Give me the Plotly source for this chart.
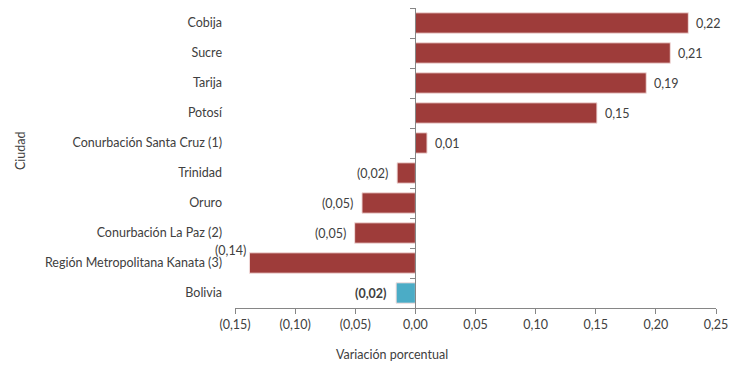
import plotly.graph_objects as go

categories = ["Cobija", "Sucre", "Tarija", "Potosí", "Conurbación Santa Cruz (1)",
              "Trinidad", "Oruro", "Conurbación La Paz (2)",
              "Región Metropolitana Kanata (3)", "Bolivia"]
values = [0.227, 0.212, 0.192, 0.151, 0.0097, -0.0152, -0.0444, -0.0505, -0.138, -0.016]
value_labels = ["0,22", "0,21", "0,19", "0,15", "0,01", "(0,02)", "(0,05)", "(0,05)", "(0,14)", "(0,02)"]
x_tickvals = [-0.15, -0.10, -0.05, 0.0, 0.05, 0.10, 0.15, 0.20, 0.25]
x_ticktext = ["(0,15)", "(0,10)", "(0,05)", "0,00", "0,05", "0,10", "0,15", "0,20", "0,25"]

RED = "#9E3C3A"
BLUE = "#4BACC6"
FONT = "Lato"
FS = 12.5
TXT = "#404040"

colors = [BLUE if c == "Bolivia" else RED for c in categories]

fig = go.Figure()
fig.add_trace(go.Bar(
    x=values, y=categories, orientation="h",
    marker=dict(color=colors, line=dict(color="#F2DCDB", width=1)),
    width=0.68, hoverinfo="skip",
))
# invisible trace carrying the secondary y axis (drawn at x = 0)
fig.add_trace(go.Scatter(x=values, y=categories, yaxis="y2", mode="markers",
                         marker=dict(opacity=0), hoverinfo="skip", showlegend=False))

# value labels
for c, v, t in zip(categories, values, value_labels):
    txt = "<b>" + t + "</b>" if c == "Bolivia" else t
    if c == "Región Metropolitana Kanata (3)":
        fig.add_annotation(x=v, y=c, text=txt, showarrow=False,
                           xanchor="right", yanchor="middle", xshift=-1, yshift=13,
                           font=dict(family=FONT, size=FS, color=TXT))
    elif v >= 0:
        fig.add_annotation(x=v, y=c, text=txt, showarrow=False,
                           xanchor="left", yanchor="middle", xshift=6,
                           font=dict(family=FONT, size=FS, color=TXT))
    else:
        fig.add_annotation(x=v, y=c, text=txt, showarrow=False,
                           xanchor="right", yanchor="middle", xshift=-7,
                           font=dict(family=FONT, size=FS, color=TXT))

# the page body adds an 8px offset; work in figure coordinates
W, H = 748, 359
ml, mr, mt, mb = 227, 40, 0, 59
xmin, xmax = -0.15, 0.25
zero_frac = (0 - xmin) / (xmax - xmin)
pw, ph = W - ml - mr, H - mt - mb

fig.update_layout(
    width=W, height=H,
    margin=dict(l=ml, r=mr, t=mt, b=mb, pad=0),
    plot_bgcolor="white", paper_bgcolor="white",
    showlegend=False,
    font=dict(family=FONT, size=FS, color=TXT),
    xaxis=dict(range=[xmin, xmax], tickvals=x_tickvals, ticktext=x_ticktext,
               showgrid=False, zeroline=False, showline=True, linecolor="#868686",
               linewidth=1, ticks="outside", ticklen=5, tickcolor="#868686",
               tickfont=dict(family=FONT, size=FS, color=TXT)),
    yaxis=dict(type="category", categoryorder="array", categoryarray=categories[::-1],
               autorange=False, range=[-0.5, len(categories) - 0.5],
               showgrid=False, zeroline=False, showline=False, ticks="",
               ticklabelstandoff=12,
               tickfont=dict(family=FONT, size=FS, color=TXT)),
    yaxis2=dict(type="category", categoryorder="array", categoryarray=categories[::-1],
                overlaying="y", anchor="free", position=zero_frac, side="left",
                autorange=False, range=[-0.5, len(categories) - 0.5],
                showgrid=False, zeroline=False, showline=True, linecolor="#868686",
                linewidth=1, ticks="outside", ticklen=5, tickcolor="#868686",
                tickson="boundaries", showticklabels=False),
    bargap=0.32,
)

fig.add_annotation(text="Variación porcentual", xref="paper", yref="paper",
                   x=(384 - ml) / pw, y=-(346 - (H - mb)) / ph,
                   xanchor="center", yanchor="middle", showarrow=False,
                   font=dict(family=FONT, size=FS, color=TXT))
fig.add_annotation(text="Ciudad", xref="paper", yref="paper",
                   x=-(ml - 12) / pw, y=(H - mb - 143) / ph,
                   xanchor="center", yanchor="middle", textangle=-90, showarrow=False,
                   font=dict(family=FONT, size=FS, color=TXT))

fig.write_html("out.html")
